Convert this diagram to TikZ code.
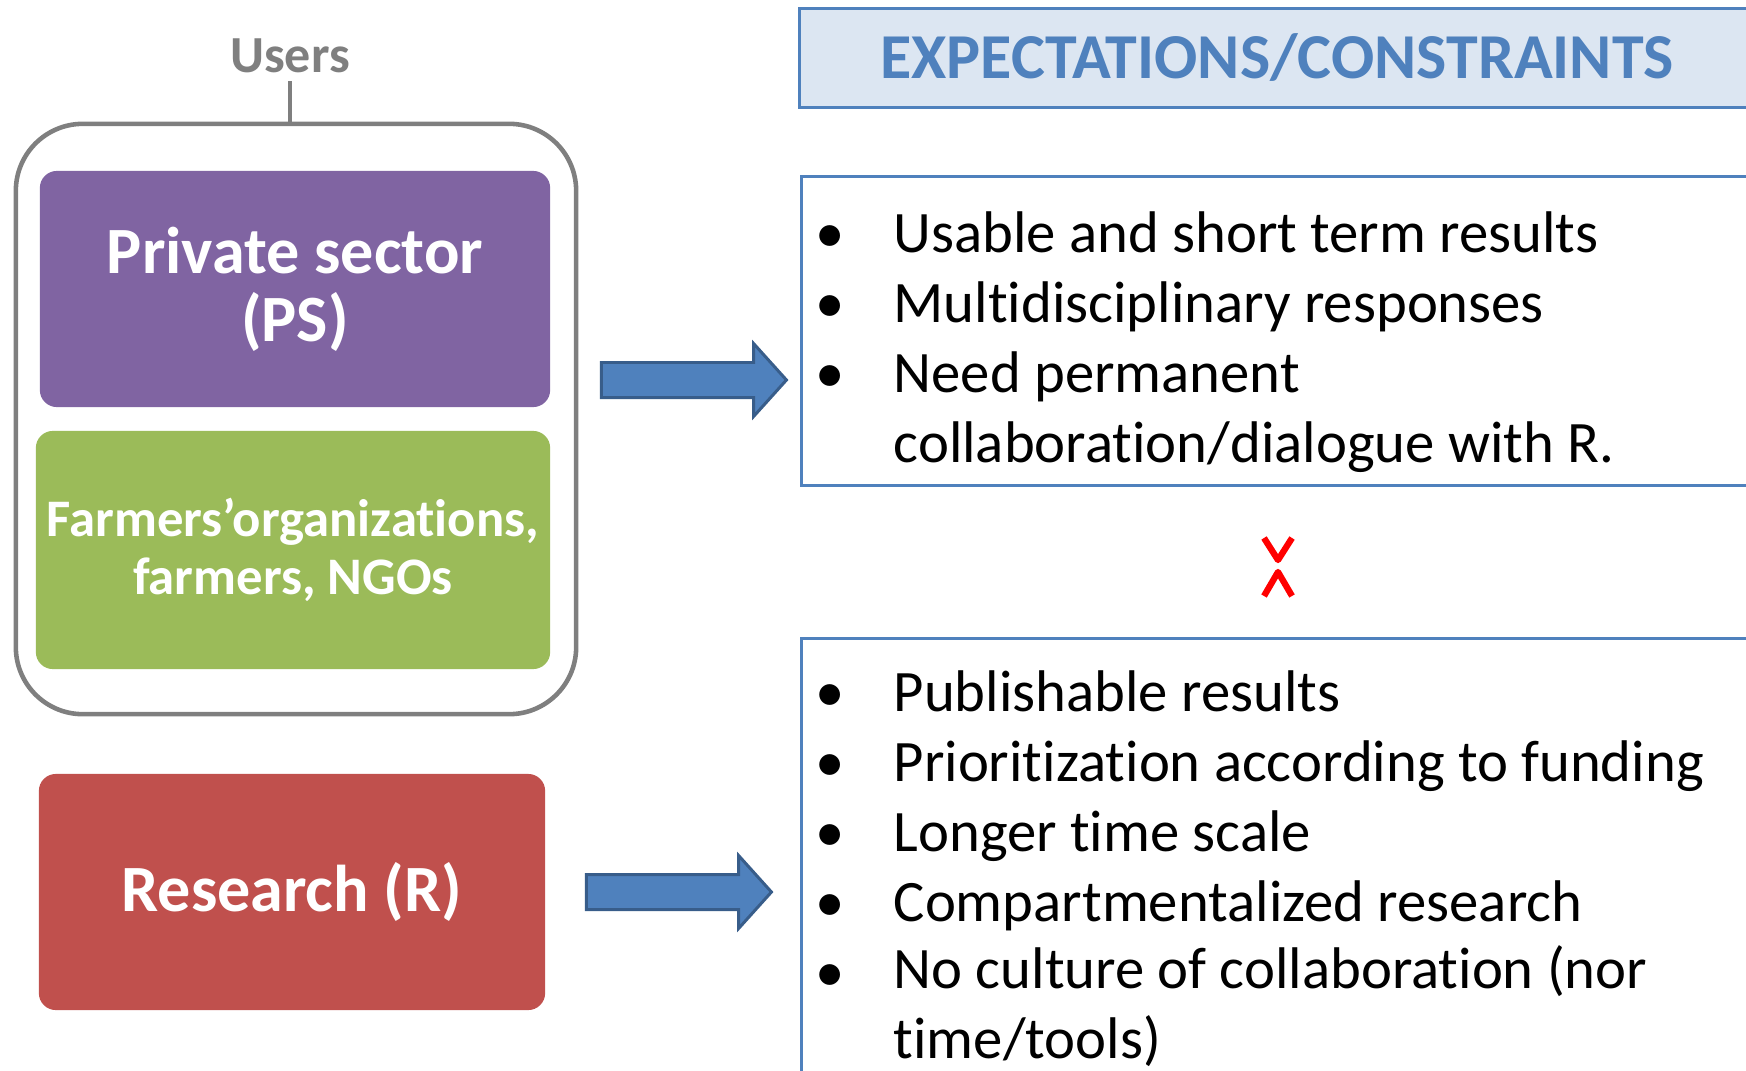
\documentclass[tikz,border=0pt]{standalone}
\usepackage{fontspec}
\setmainfont{Carlito}[Ligatures=NoCommon]
\usepackage{xcolor}
\usepackage{tikz}
\usetikzlibrary{shapes.arrows}

\definecolor{psviolet}{HTML}{8064A2}
\definecolor{fogreen}{HTML}{9BBB59}
\definecolor{resred}{HTML}{C0504D}
\definecolor{expblue}{HTML}{4F81BD}
\definecolor{arrowrim}{HTML}{385D8A}
\definecolor{headfill}{HTML}{DCE6F2}
\definecolor{usergray}{HTML}{7F7F7F}

\begin{document}
\begin{tikzpicture}[x=0.01cm,y=-0.01cm,every node/.style={inner sep=0pt},
    userbox/.style={rounded corners=0.17cm,minimum width=5.1cm,minimum height=2.36cm,text=white,align=center,font=\bfseries\fontsize{18.8}{19.4}\selectfont},
    expbox/.style={draw=expblue,line width=0.85pt,anchor=north west,minimum width=9.8cm},
    bigarrow/.style={single arrow,fill=expblue,draw=arrowrim,line width=0.85pt,inner xsep=0pt,inner ysep=0.16cm,minimum height=1.85cm,single arrow head extend=0.19cm,single arrow tip angle=96},
    dot/.style={anchor=base,font=\fontsize{16.7}{19.9}\selectfont},
    item/.style={anchor=base west,align=left,font=\fontsize{16.7}{19.9}\selectfont}]
    \useasboundingbox (0,0) rectangle (1746,1070);
    \clip (0,0) rectangle (1746,1070);

    % users side
    \node[draw=usergray,line width=1.3pt,rounded corners=0.67cm,minimum width=5.6cm,minimum height=5.9cm] (usersbox) at (296,419) {};
    \node[anchor=base,inner sep=0.07cm,text=usergray,font=\bfseries\fontsize{14.8}{16}\selectfont] (users) at (290,73) {Users};
    \draw[usergray,line width=1.3pt] (users.south) -- (users.south |- usersbox.north);
    \node[userbox,fill=psviolet] (ps) at (295,289) {Private sector\\(PS)};
    \node[userbox,fill=fogreen,minimum width=5.14cm,minimum height=2.38cm,font=\bfseries\fontsize{15.0}{16.5}\selectfont] (fo) at (293,550) {Farmers’organizations,\\farmers, NGOs};
    \node[userbox,fill=resred,minimum width=5.06cm] (res) at (292,892) {Research (R)};

    % arrows
    \node[bigarrow] (arr1) at (686,380) {};
    \node[bigarrow] (arr2) at (671,892) {};

    % expectations side
    \node[draw=expblue,line width=0.85pt,fill=headfill,minimum width=9.54cm,minimum height=0.98cm,text=expblue,font=\bfseries\fontsize{18.2}{19}\selectfont] (head) at (1277,58) {EXPECTATIONS/CONSTRAINTS};
    \node[expbox,minimum height=3.09cm] (psexp) at (800,175) {};
    \node[expbox,minimum height=4.6cm] (resexp) at (800,637) {};

    \node[dot] (b1) at (830,252) {\textbullet};
    \node[item] (t1) at (893,252) {Usable and short term results};
    \node[dot] (b2) at (830,322) {\textbullet};
    \node[item] (t2) at (893,322) {Multidisciplinary responses};
    \node[dot] (b3) at (830,392) {\textbullet};
    \node[item] (t3) at (893,462) {Need permanent\\collaboration/dialogue with R.};

    % conflict sign
    \draw[red,line width=1.8pt,line join=round] (1264,538) -- (1278,560) -- (1292,538);
    \draw[red,line width=1.8pt,line join=round] (1264,596) -- (1278,572) -- (1292,596);

    \node[dot] (b4) at (830,711) {\textbullet};
    \node[item] (t4) at (893,711) {Publishable results};
    \node[dot] (b5) at (830,781) {\textbullet};
    \node[item] (t5) at (893,781) {Prioritization according to funding};
    \node[dot] (b6) at (830,851) {\textbullet};
    \node[item] (t6) at (893,851) {Longer time scale};
    \node[dot] (b7) at (830,921) {\textbullet};
    \node[item] (t7) at (893,921) {Compartmentalized research};
    \node[dot] (b8) at (830,991) {\textbullet};
    \node[item] (t8) at (893,1058) {No culture of collaboration (nor\\time/tools)};
\end{tikzpicture}
\end{document}
